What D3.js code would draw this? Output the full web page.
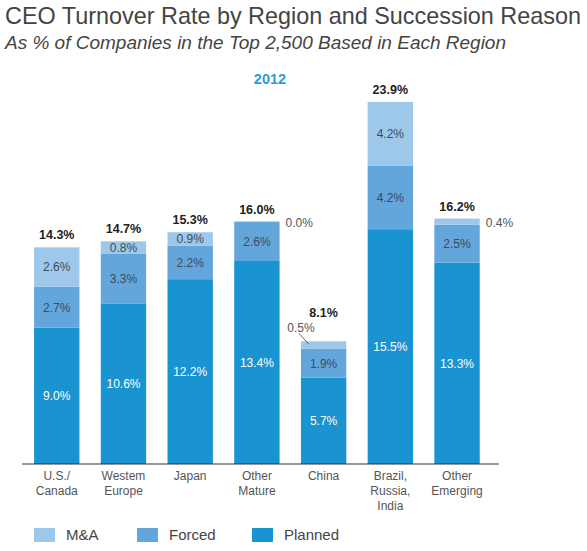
<!DOCTYPE html>
<html>
<head>
<meta charset="utf-8">
<script src="https://cdn.jsdelivr.net/npm/d3@7"></script>
<style>
  body { margin: 0; background: #fff; }
  svg { font-family: "Liberation Sans", Arial, sans-serif; }
</style>
</head>
<body>
<svg id="chart" width="587" height="551"></svg>
<script>
// data
const regions = ['U.S./Canada', 'Western Europe', 'Japan', 'Other Mature', 'China', 'Brazil, Russia, India', 'Other Emerging'];
const regionLines = [['U.S./', 'Canada'], ['Westem', 'Europe'], ['Japan'], ['Other', 'Mature'], ['China'], ['Brazil,', 'Russia,', 'India'], ['Other', 'Emerging']];
const planned = [9.0, 10.6, 12.2, 13.4, 5.7, 15.5, 13.3];
const forced = [2.7, 3.3, 2.2, 2.6, 1.9, 4.2, 2.5];
const mna = [2.6, 0.8, 0.9, 0.0, 0.5, 4.2, 0.4];
const totals = [14.3, 14.7, 15.3, 16.0, 8.1, 23.9, 16.2];
const seriesKeys = ['planned', 'forced', 'mna'];
const seriesNames = ['Planned', 'Forced', 'M&A'];
const legendOrder = ['mna', 'forced', 'planned'];

const colors = { mna: '#9ec8ea', forced: '#62a6dc', planned: '#1a93d1' };

// table for d3.stack
const table = regions.map((r, i) => ({ region: r, planned: planned[i], forced: forced[i], mna: mna[i], total: totals[i] }));

const svg = d3.select('#chart');
const baseY = 464;

const x = d3.scaleBand()
  .domain(regions)
  .range([23.4, 490.4])
  .paddingInner(0.32)
  .paddingOuter(0.16);

const y = d3.scaleLinear()
  .domain([0, 24])
  .range([baseY, baseY - 24 * 15.15]);

// title
svg.append('text')
  .attr('x', 5).attr('y', 24)
  .attr('font-size', 23.4)
  .attr('fill', '#444')
  .text('CEO Turnover Rate by Region and Succession Reason');

svg.append('text')
  .attr('x', 5).attr('y', 49)
  .attr('font-size', 19)
  .attr('font-style', 'italic')
  .attr('fill', '#444')
  .text('As % of Companies in the Top 2,500 Based in Each Region');

svg.append('text')
  .attr('x', 270).attr('y', 84)
  .attr('text-anchor', 'middle')
  .attr('font-size', 14.5)
  .attr('font-weight', 'bold')
  .attr('fill', '#2e9bd6')
  .text('2012');

const stacked = d3.stack().keys(seriesKeys)(table);

const layers = svg.selectAll('.layer')
  .data(stacked)
  .enter().append('g')
  .attr('class', 'layer')
  .attr('fill', d => colors[d.key]);

layers.selectAll('rect')
  .data(d => d)
  .enter().append('rect')
  .attr('x', d => x(d.data.region))
  .attr('y', d => y(d[1]))
  .attr('width', x.bandwidth())
  .attr('height', d => y(d[0]) - y(d[1]));

// segment labels
stacked.forEach(layer => {
  layer.forEach(d => {
    const v = d.data[layer.key];
    const bx = x(d.data.region);
    const cy = (y(d[0]) + y(d[1])) / 2;
    if (v >= 0.6) {
      svg.append('text')
        .attr('x', bx + x.bandwidth() / 2)
        .attr('y', cy)
        .attr('dy', '0.36em')
        .attr('text-anchor', 'middle')
        .attr('font-size', 12)
        .attr('fill', layer.key === 'planned' ? '#fff' : '#3d4b5c')
        .text(v.toFixed(1) + '%');
    } else if (d.data.region === 'China') {
      // label left of the bar with a leader line
      svg.append('text')
        .attr('x', bx + x.bandwidth() / 2 - 9)
        .attr('y', y(d[1]) - 14)
        .attr('dy', '0.36em')
        .attr('text-anchor', 'end')
        .attr('font-size', 12)
        .attr('fill', '#555')
        .text(v.toFixed(1) + '%');
      svg.append('line')
        .attr('x1', bx - 2).attr('y1', y(d[1]) - 8)
        .attr('x2', bx + 8).attr('y2', y(d[1]) + 3)
        .attr('stroke', '#444')
        .attr('stroke-width', 0.8);
    } else {
      svg.append('text')
        .attr('x', bx + x.bandwidth() + 6)
        .attr('y', cy + 1)
        .attr('dy', '0.36em')
        .attr('font-size', 12)
        .attr('fill', '#555')
        .text(v.toFixed(1) + '%');
    }
  });
});

// totals
svg.selectAll('.total')
  .data(table)
  .enter().append('text')
  .attr('class', 'total')
  .attr('x', d => x(d.region) + x.bandwidth() / 2)
  .attr('y', d => y(d.total) - (d.region === 'China' ? 24 : 8))
  .attr('text-anchor', 'middle')
  .attr('font-size', 12.5)
  .attr('font-weight', 'bold')
  .attr('fill', '#222')
  .text(d => d.total.toFixed(1) + '%');

// x axis
const xAxis = svg.append('g')
  .attr('transform', `translate(0, ${baseY})`)
  .call(d3.axisBottom(x).tickSize(0).tickFormat(''));
xAxis.select('.domain').remove();
xAxis.append('line')
  .attr('x1', 22).attr('x2', 499)
  .attr('stroke', '#333').attr('stroke-width', 1.2);

xAxis.selectAll('.tick text').each(function (d, i) {
  const t = d3.select(this)
    .attr('y', 0)
    .attr('dy', null)
    .attr('font-size', 12)
    .attr('fill', '#555')
    .attr('font-family', '"Liberation Sans", Arial, sans-serif');
  regionLines[regions.indexOf(d)].forEach((line, k) => {
    t.append('tspan').attr('x', 0).attr('y', 16 + k * 15).text(line);
  });
});

// legend
const legendX = [34, 137, 252];
const legend = svg.selectAll('.legend')
  .data(legendOrder)
  .enter().append('g')
  .attr('transform', (d, i) => `translate(${legendX[i]}, 528)`);
legend.append('rect')
  .attr('width', 21).attr('height', 14)
  .attr('fill', d => colors[d]);
legend.append('text')
  .attr('x', 32).attr('y', 12)
  .attr('font-size', 15)
  .attr('fill', '#444')
  .text(d => seriesNames[seriesKeys.indexOf(d)]);
</script>
</body>
</html>
